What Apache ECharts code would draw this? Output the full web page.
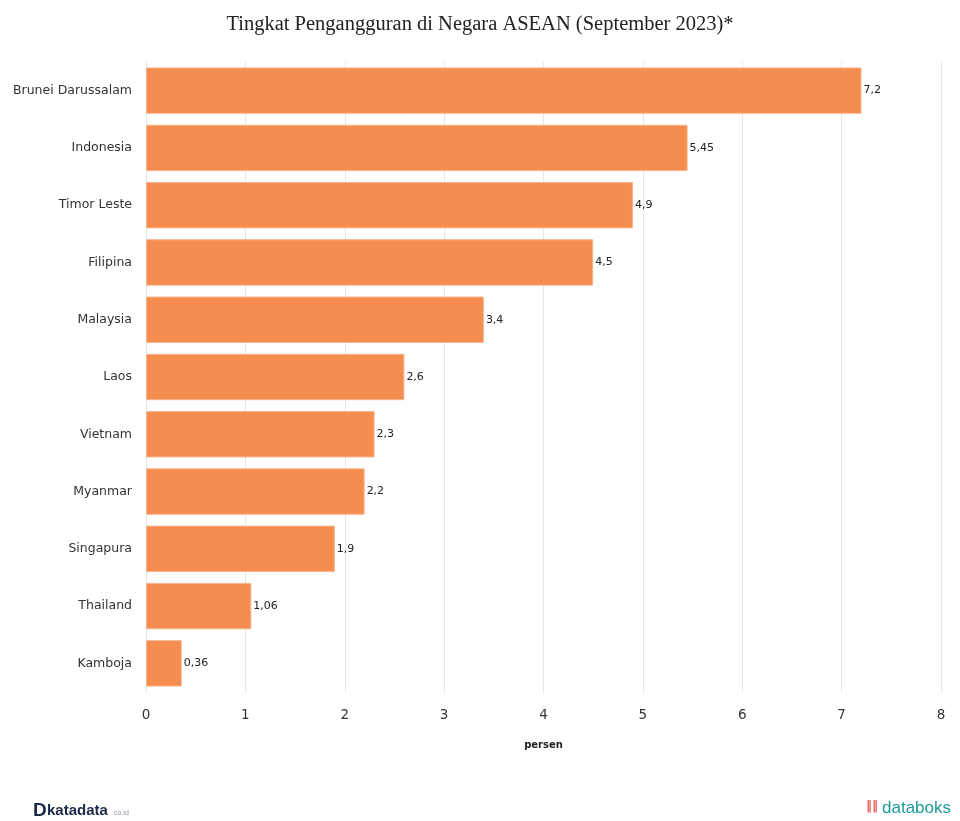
<!DOCTYPE html>
<html>
<head>
<meta charset="utf-8">
<script src="https://cdn.jsdelivr.net/npm/echarts@6/dist/echarts.min.js"></script>
<style>
  html, body { margin: 0; padding: 0; background: #fff; }
  #chart { width: 960px; height: 821px; }
</style>
</head>
<body>
<div id="chart"></div>
<script>
const countries = ['Brunei Darussalam', 'Indonesia', 'Timor Leste', 'Filipina', 'Malaysia', 'Laos',
  'Vietnam', 'Myanmar', 'Singapura', 'Thailand', 'Kamboja'];
const rates = [7.2, 5.45, 4.9, 4.5, 3.4, 2.6, 2.3, 2.2, 1.9, 1.06, 0.36];
const xTicks = [0, 8, 1];

const chart = echarts.init(document.getElementById('chart'));

const option = {
  animation: false,
  title: {
    text: 'Tingkat Pengangguran di Negara ASEAN (September 2023)*',
    left: 'center',
    top: 9,
    textStyle: {
      fontFamily: 'Liberation Serif',
      fontWeight: 'normal',
      fontSize: 20.5,
      color: '#222',
    },
  },
  grid: {
    left: 146,
    right: 19,
    top: 62,
    bottom: 129,
  },
  xAxis: {
    type: 'value',
    min: xTicks[0],
    max: xTicks[1],
    interval: xTicks[2],
    name: 'persen',
    nameLocation: 'middle',
    nameGap: 48,
    nameTextStyle: {
      fontFamily: 'DejaVu Sans',
      fontWeight: 'bold',
      fontSize: 10,
      color: '#222',
    },
    axisLine: { show: false },
    axisTick: { show: false },
    axisLabel: {
      margin: 16,
      fontFamily: 'DejaVu Sans',
      fontSize: 13.5,
      color: '#333',
    },
    splitLine: { lineStyle: { color: '#e6e6e6', width: 1 } },
  },
  yAxis: {
    type: 'category',
    data: countries,
    inverse: true,
    axisLine: { lineStyle: { color: '#e6e6e6' } },
    axisTick: { length: 5, lineStyle: { color: '#ccc' } },
    axisLabel: {
      margin: 14,
      fontFamily: 'DejaVu Sans',
      fontSize: 12.5,
      color: '#333',
    },
  },
  series: [
    {
      type: 'bar',
      data: rates,
      barCategoryGap: '19%',
      itemStyle: {
        color: '#f58d50',
        borderColor: '#f7b48a',
        borderWidth: 1,
      },
      label: {
        show: true,
        position: 'right',
        distance: 2,
        fontFamily: 'DejaVu Sans',
        fontSize: 11,
        color: '#222',
        formatter: (p) => String(p.value).replace('.', ','),
      },
    },
  ],
  graphic: [
    {
      type: 'text',
      left: 33,
      top: 801,
      style: {
        text: 'D',
        font: 'bold 19px "Liberation Sans Narrow", "Liberation Sans"',
        fill: '#1c2a4a',
      },
    },
    {
      type: 'text',
      left: 47,
      top: 803,
      style: {
        text: 'katadata',
        font: 'bold 15px "Liberation Sans Narrow", "Liberation Sans"',
        fill: '#1c2a4a',
      },
    },
    {
      type: 'text',
      left: 114,
      top: 810,
      style: {
        text: 'co.id',
        font: '7px "Liberation Sans"',
        fill: '#8a93a6',
      },
    },
    {
      type: 'text',
      left: 866,
      top: 801,
      style: {
        text: '\u2016\u2016',
        font: 'bold 12px "DejaVu Sans"',
        fill: '#e4605a',
      },
    },
    {
      type: 'text',
      left: 882,
      top: 800,
      style: {
        text: 'databoks',
        font: '17px "Liberation Sans Narrow", "Liberation Sans"',
        fill: '#1e9a9a',
      },
    },
  ],
};

chart.setOption(option);
</script>
</body>
</html>
